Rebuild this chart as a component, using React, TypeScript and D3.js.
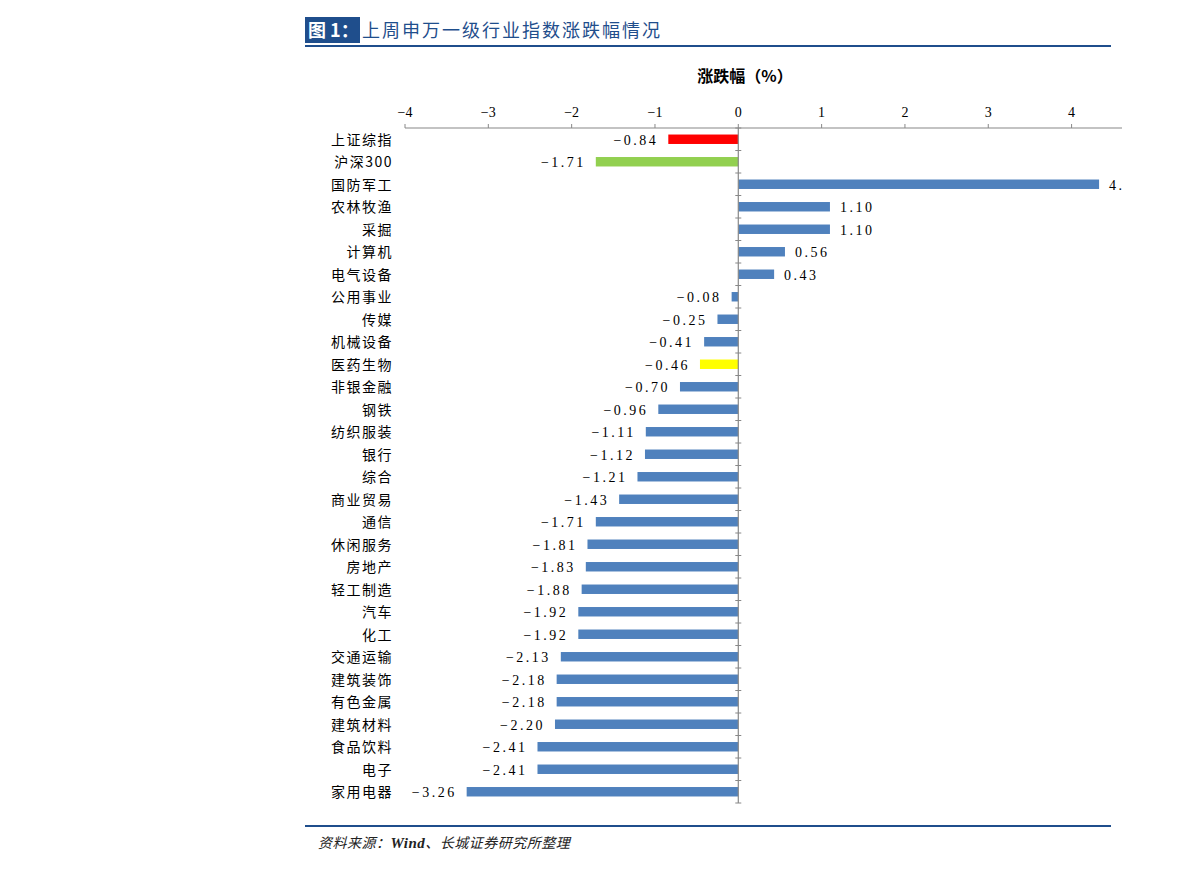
import React from "react";
import * as d3 from "d3";

const categories = ["上证综指","沪深300","国防军工","农林牧渔","采掘","计算机","电气设备","公用事业","传媒","机械设备","医药生物","非银金融","钢铁","纺织服装","银行","综合","商业贸易","通信","休闲服务","房地产","轻工制造","汽车","化工","交通运输","建筑装饰","有色金属","建筑材料","食品饮料","电子","家用电器"];
const values = [-0.84,-1.71,4.33,1.10,1.10,0.56,0.43,-0.08,-0.25,-0.41,-0.46,-0.70,-0.96,-1.11,-1.12,-1.21,-1.43,-1.71,-1.81,-1.83,-1.88,-1.92,-1.92,-2.13,-2.18,-2.18,-2.20,-2.41,-2.41,-3.26];
const highlight: Record<string, string> = { "上证综指": "#ff0000", "沪深300": "#92d050", "医药生物": "#ffff00" };
const xTicks = [-4,-3,-2,-1,0,1,2,3,4];

const W = 1191, H = 871;
const plotLeft = 405, plotRight = 1122, plotTop = 128, plotBottom = 803;
const BLUE = "#4f81bd";
const DARK = "#1f4e8c";

export default function App() {
  const x = d3.scaleLinear().domain([-4, 4.605]).range([plotLeft, plotRight]);
  const y = d3.scaleBand<string>().domain(categories).range([plotTop, plotBottom]).paddingInner(0.58).paddingOuter(0.29);
  const band = (plotBottom - plotTop) / categories.length;
  const numFont = "'Liberation Serif', 'DejaVu Serif', serif";
  const cjkFont = "'Noto Sans CJK SC', sans-serif";
  return (
    <svg width={W} height={H} style={{ position: "absolute", left: 0, top: 0, background: "#fff" }}>
      <defs>
        <clipPath id="plotclip"><rect x={0} y={0} width={plotRight} height={H} /></clipPath>
      </defs>
      {/* title */}
      <rect x={305} y={17} width={55} height={26} fill={DARK} />
      <text x={308} y={37} fill="#fff" fontSize={18} fontWeight="bold" fontFamily={cjkFont}>图 1：</text>
      <text x={362} y={37} fill={DARK} fontSize={18} fontFamily={cjkFont} letterSpacing={2}>上周申万一级行业指数涨跌幅情况</text>
      <line x1={305} x2={1111} y1={46} y2={46} stroke={DARK} strokeWidth={2} />
      {/* axis title */}
      <text x={745} y={82} textAnchor="middle" fontSize={16} fontWeight="bold" fontFamily={cjkFont}>涨跌幅（%）</text>
      {/* top axis */}
      <line x1={plotLeft} x2={plotRight} y1={plotTop} y2={plotTop} stroke="#888" strokeWidth={1.2} />
      {xTicks.map(t => (
        <g key={t}>
          <line x1={x(t)} x2={x(t)} y1={plotTop - 4} y2={plotTop} stroke="#888" />
          <text x={x(t)} y={117} textAnchor="middle" fontSize={14} fontFamily={numFont}>{t < 0 ? "−" + Math.abs(t) : t}</text>
        </g>
      ))}
      {/* bars */}
      <g clipPath="url(#plotclip)">
        {categories.map((c, i) => {
          const v = values[i];
          const x0 = x(Math.min(0, v)), x1 = x(Math.max(0, v));
          const cy = (y(c) as number) + y.bandwidth() / 2;
          const label = (v < 0 ? "−" : "") + Math.abs(v).toFixed(2);
          return (
            <g key={c}>
              <rect x={x0} y={y(c)} width={x1 - x0} height={y.bandwidth()} fill={highlight[c] || BLUE} />
              <text x={v < 0 ? x0 - 10 : x1 + 10} y={cy + 5.5} textAnchor={v < 0 ? "end" : "start"} fontSize={14} fontFamily={numFont} letterSpacing={2.5}>{label}</text>
            </g>
          );
        })}
      </g>
      {/* vertical axis */}
      <line x1={x(0)} x2={x(0)} y1={plotTop} y2={plotBottom} stroke="#888" strokeWidth={1.2} />
      {d3.range(categories.length + 1).map(i => (
        <line key={i} x1={x(0) - 3} x2={x(0) + 3} y1={plotTop + i * band} y2={plotTop + i * band} stroke="#888" />
      ))}
      {/* category labels */}
      {categories.map(c => (
        <text key={c} x={393} y={(y(c) as number) + y.bandwidth() / 2 + 5.5} textAnchor="end" fontSize={14} fontFamily={cjkFont} letterSpacing={1.5}>{c}</text>
      ))}
      {/* footer */}
      <line x1={305} x2={1111} y1={826} y2={826} stroke={DARK} strokeWidth={2} />
      <text x={318} y={848} fontSize={14} fontStyle="italic" fontWeight="normal" fontFamily={cjkFont} letterSpacing={0.5} fill="#222">资料来源：<tspan fontFamily="'Liberation Serif', serif" fontSize={15} fontWeight="bold">Wind</tspan>、长城证券研究所整理</text>
    </svg>
  );
}
